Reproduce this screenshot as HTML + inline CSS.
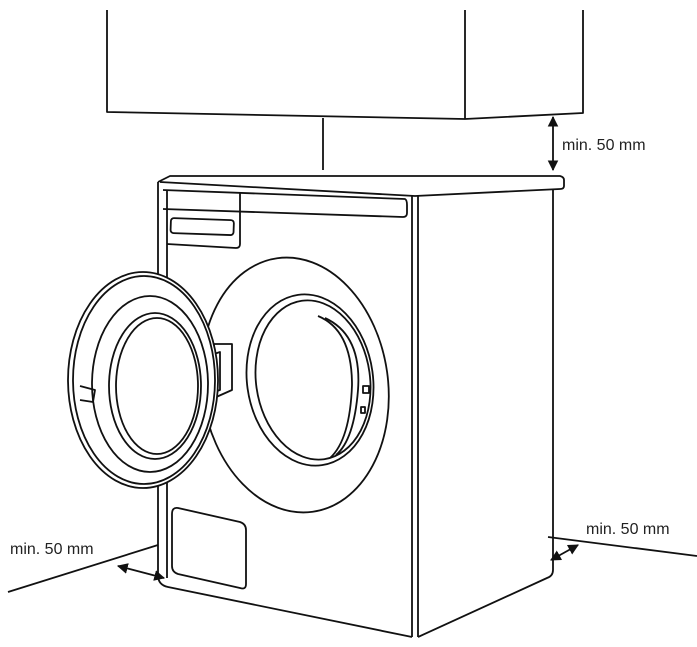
<!DOCTYPE html>
<html><head><style>body{margin:0;background:#fff}svg{display:block}text{font-family:"Liberation Sans",sans-serif;font-size:16px;fill:#222}</style></head>
<body>
<svg width="697" height="647" viewBox="0 0 697 647" xmlns="http://www.w3.org/2000/svg">
<defs><marker id="a" viewBox="0 0 10 10" refX="9" refY="5" markerWidth="6" markerHeight="6" orient="auto-start-reverse"><path d="M0,0L10,5L0,10z" fill="#111"/></marker></defs>
<g fill="none" stroke="#111" stroke-width="1.8" stroke-linejoin="round">
<path d="M107,10V112L465,119L583,113V10"/>
<path d="M465,10V119"/>
<path d="M323,118V170"/>
<path d="M158,182L170,176L560,176Q564,177 564,180V186Q564,189 560,189L415,196L160,182"/>
<path d="M158,182V575Q158,585 168,587L412,637"/>
<path d="M167,190V578"/>
<path d="M412,196V637M418,196V637"/>
<path d="M553,189V570Q553,576 547,578L418,637"/>
<path d="M163,190L405,199Q407,200 407,205V213Q407,217 403,217L163,209"/>
<path d="M240,192V244Q240,248 236,248L167,244"/>
<rect x="171" y="218" width="63" height="15" rx="3" transform="rotate(2 171 218)"/>
<ellipse cx="295" cy="385" rx="93" ry="128" transform="rotate(-8 295 385)"/>
<ellipse cx="310" cy="380" rx="63" ry="86" transform="rotate(-8 310 380)"/>
<ellipse cx="313" cy="380" rx="57" ry="80" transform="rotate(-8 313 380)"/>
<path d="M318,316Q352,330 352,385Q350,440 330,458"/>
<path d="M325,318Q362,335 358,390Q354,440 336,455"/>
<rect x="363" y="386" width="6" height="7"/><rect x="361" y="407" width="4" height="6"/>
<path d="M214,344L232,344V390L214,398Z"/><path d="M214,354L220,352V390L214,392"/>
<ellipse cx="143" cy="380" rx="75" ry="108" fill="#fff"/>
<ellipse cx="144" cy="380" rx="71" ry="104"/>
<ellipse cx="150" cy="384" rx="58" ry="88"/>
<ellipse cx="155" cy="386" rx="46" ry="73"/>
<ellipse cx="157" cy="386" rx="41" ry="68"/>
<path d="M80,386L95,390L93,402L80,400"/>
<path d="M178,508L240,522Q246,524 246,530V584Q246,590 240,588L178,574Q172,572 172,566V514Q172,507 178,508Z"/>
<path d="M8,592L158,545"/>
<path d="M548,537L697,556"/>
</g>
<g stroke="#111" stroke-width="1.8" fill="none">
<path d="M118,566L164,578" marker-start="url(#a)" marker-end="url(#a)"/>
<path d="M551,560L578,545" marker-start="url(#a)" marker-end="url(#a)"/>
<path d="M553,117V170" marker-start="url(#a)" marker-end="url(#a)"/>
</g>
<text x="562" y="150">min. 50 mm</text>
<text x="10" y="554">min. 50 mm</text>
<text x="586" y="534">min. 50 mm</text>
</svg>
</body></html>
